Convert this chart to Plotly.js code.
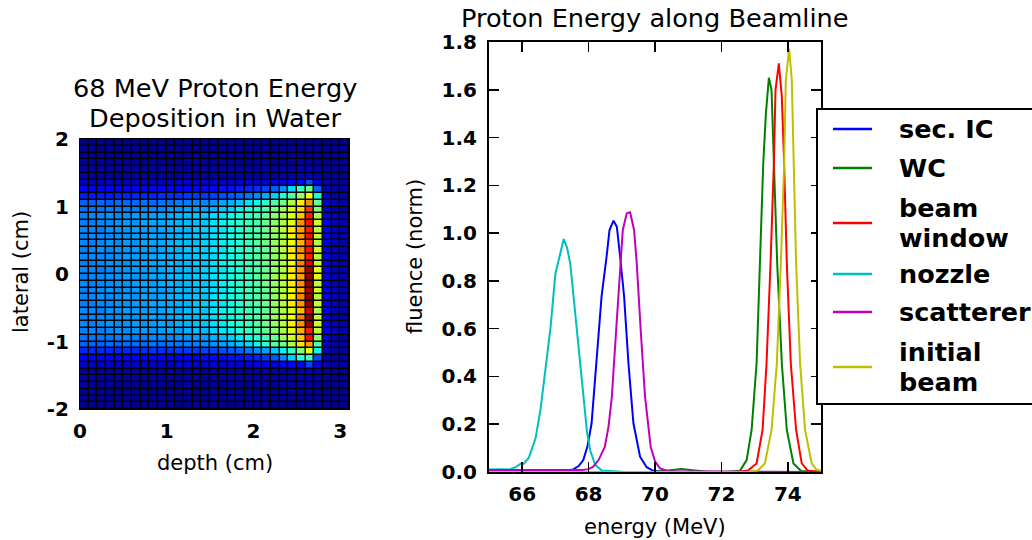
<!DOCTYPE html>
<html><head><meta charset="utf-8">
<script src="https://cdn.plot.ly/plotly-3.0.1.min.js"></script>
<style>html,body{margin:0;padding:0;background:#fff}#chart{width:1032px;height:540px}</style>
</head><body><div id="chart"></div><script>
// ---------- Left panel: dose deposition heatmap ----------
const depthCenters = [0.05,0.15,0.25,0.35,0.45,0.55,0.65,0.75,0.85,0.95,1.05,1.15,1.25,1.35,1.45,1.55,1.65,1.75,1.85,1.95,2.05,2.15,2.25,2.35,2.45,2.55,2.65,2.75,2.85,2.95,3.05];
const lateralCenters = [-1.95,-1.85,-1.75,-1.65,-1.55,-1.45,-1.35,-1.25,-1.15,-1.05,-0.95,-0.85,-0.75,-0.65,-0.55,-0.45,-0.35,-0.25,-0.15,-0.05,0.05,0.15,0.25,0.35,0.45,0.55,0.65,0.75,0.85,0.95,1.05,1.15,1.25,1.35,1.45,1.55,1.65,1.75,1.85,1.95];
// relative energy deposition (0-100), rows from bottom (-2 cm) to top (+2 cm)
const dose = [
 [2,2,1,2,2, 2,1,2,2,2, 2,1,2,2,2, 2,2,1,2,2, 2,2,2,2,1, 2,2,2,2,1, 2],
 [2,2,2,2,2, 2,2,2,2,2, 2,2,2,2,2, 2,2,2,2,2, 2,2,2,2,2, 2,2,2,2,2, 2],
 [2,3,2,2,2, 3,2,2,2,2, 3,2,2,2,2, 3,2,2,2,3, 2,2,2,2,3, 2,3,2,2,2, 2],
 [3,2,2,3,2, 2,2,3,2,2, 2,2,3,2,2, 2,2,3,2,2, 3,2,2,3,2, 3,3,2,2,2, 2],
 [3,3,3,3,3, 3,3,3,3,3, 3,3,3,3,3, 3,3,3,3,3, 3,3,3,3,3, 4,4,3,3,2, 2],
 [3,3,3,3,3, 3,3,3,3,3, 3,3,3,3,3, 3,3,4,3,3, 4,4,4,4,4, 5,5,4,3,3, 2],
 [6,6,6,6,6, 6,6,6,6,6, 6,7,7,7,7, 7,7,7,7,7, 8,8,8,9,10, 12,19,9,4,3, 3],
 [11,11,11,11,11, 11,11,12,12,12, 12,12,12,12,13, 13,13,14,14,15, 16,18,21,26,33, 40,42,20,5,3, 3],
 [16,16,16,16,16, 16,16,17,17,17, 17,18,18,18,19, 19,20,21,22,24, 26,28,32,36,41, 50,63,37,6,3, 3],
 [22,22,22,23,22, 23,23,23,24,23, 24,24,25,25,26, 27,28,30,32,34, 37,40,45,49,55, 67,74,45,7,4, 3],
 [24,24,24,24,25, 25,25,25,26,26, 26,27,27,28,28, 30,31,33,35,38, 40,43,48,53,60, 70,90,52,8,4, 3],
 [25,26,25,26,27, 26,27,28,27,28, 29,28,30,31,31, 33,35,36,39,41, 44,47,51,56,63, 72,88,57,9,5, 4],
 [26,25,26,27,26, 27,28,27,28,29, 28,30,30,31,32, 34,35,38,40,42, 45,48,52,57,66, 76,98,60,9,5, 4],
 [25,26,26,26,27, 27,27,28,29,28, 29,30,31,31,33, 34,36,37,39,43, 45,48,53,58,64, 78,99,58,9,5, 4],
 [26,26,25,27,27, 28,28,28,28,29, 30,29,31,32,32, 35,36,38,40,42, 44,47,52,56,62, 71,92,55,9,5, 4],
 [25,25,26,26,27, 27,28,28,29,29, 29,30,30,32,33, 34,35,37,40,43, 45,49,53,57,66, 75,99,59,9,5, 4],
 [26,26,27,26,27, 28,27,29,28,29, 30,30,31,32,32, 35,36,38,39,42, 45,48,52,58,65, 77,99,57,9,5, 4],
 [25,26,26,27,26, 27,28,28,29,28, 29,31,30,31,33, 34,35,37,40,43, 44,47,53,56,64, 73,96,60,9,5, 4],
 [26,25,26,26,27, 27,28,29,28,29, 30,30,31,32,32, 34,36,38,39,42, 45,48,52,57,66, 76,98,58,9,5, 4],
 [25,26,26,27,27, 28,27,28,29,29, 30,31,31,32,33, 35,36,37,40,42, 45,49,54,58,65, 74,99,62,9,5, 4],
 [26,26,25,26,27, 27,28,28,28,29, 30,30,31,31,33, 34,35,37,39,43, 44,47,52,56,66, 75,97,62,9,5, 4],
 [25,25,26,27,27, 27,28,29,29,29, 30,30,31,32,32, 35,36,38,40,42, 45,48,53,57,64, 77,91,59,9,5, 4],
 [26,26,26,26,27, 28,28,28,29,30, 29,31,31,32,33, 34,36,37,39,43, 45,48,52,56,65, 73,88,57,9,5, 4],
 [25,26,27,26,27, 27,28,28,28,29, 30,30,32,32,33, 35,35,38,40,42, 44,47,52,58,66, 76,89,60,9,5, 4],
 [26,25,26,27,26, 28,27,29,29,29, 30,31,31,31,33, 34,36,37,39,42, 45,49,53,57,64, 72,86,56,9,5, 4],
 [25,26,26,26,27, 27,28,28,29,28, 30,30,31,32,32, 35,36,38,40,43, 44,48,52,56,65, 75,90,59,9,5, 4],
 [26,26,25,27,27, 27,28,28,28,29, 29,31,30,32,33, 34,35,37,39,42, 45,47,53,57,66, 74,88,57,9,5, 4],
 [25,25,26,26,27, 28,27,29,29,29, 30,30,31,31,32, 35,36,38,40,42, 44,48,52,56,63, 76,89,60,9,5, 4],
 [25,26,26,27,26, 27,28,28,28,29, 29,30,31,32,32, 34,35,37,39,41, 43,47,51,55,62, 70,88,55,8,5, 4],
 [24,24,24,25,25, 25,25,26,26,26, 27,27,28,28,29, 30,32,33,36,38, 41,44,49,54,61, 68,85,50,8,4, 3],
 [22,22,23,22,23, 23,23,24,23,24, 24,25,25,26,26, 27,29,30,32,35, 37,41,45,50,56, 66,76,47,7,4, 3],
 [15,15,15,15,16, 16,16,16,16,17, 17,17,18,18,18, 19,20,21,22,24, 26,29,33,38,45, 52,64,38,6,3, 3],
 [11,11,11,11,11, 11,12,12,12,12, 12,12,12,13,13, 13,14,14,15,16, 17,19,22,27,34, 42,48,22,5,3, 3],
 [6,6,6,6,6, 6,6,6,6,6, 7,7,7,7,7, 7,7,7,8,8, 8,8,9,9,11, 13,20,9,4,3, 3],
 [3,3,3,3,3, 3,3,3,3,3, 3,3,3,3,3, 3,3,3,3,4, 4,4,4,4,4, 5,6,4,3,3, 2],
 [3,3,3,3,3, 3,3,3,3,3, 3,3,3,3,3, 3,3,3,3,3, 3,3,3,3,3, 4,4,3,3,2, 2],
 [2,3,2,2,3, 2,2,2,3,2, 2,2,2,3,2, 2,3,2,2,2, 2,3,2,2,2, 3,3,2,2,2, 2],
 [2,2,2,2,2, 2,2,2,2,2, 2,2,2,2,2, 2,2,2,2,2, 2,2,2,2,2, 2,2,2,2,2, 2],
 [2,2,1,2,2, 2,2,2,1,2, 2,2,2,2,2, 1,2,2,2,2, 2,2,1,2,2, 2,2,2,2,2, 1],
 [1,1,1,1,1, 1,1,1,1,1, 1,1,1,1,1, 1,1,1,1,1, 1,1,1,1,1, 1,1,1,1,1, 1]
];
const depthTicks = [0,1,2,3];
const lateralTicks = [-2,-1,0,1,2];
const lateralTickText = ['-2','-1','0','1','2'];

// ---------- Right panel: fluence vs energy ----------
const secIC_E = [65,65.5,66,66.5,67,67.3,67.54,67.7,67.84,67.97,68.09,68.24,68.39,68.54,68.63,68.75,68.85,68.95,69.07,69.2,69.35,69.55,69.75,69.95,70.2,75];
const secIC_F = [0.005,0.005,0.005,0.005,0.005,0.006,0.011,0.025,0.05,0.11,0.204,0.455,0.734,0.90,1.013,1.052,1.027,0.901,0.734,0.455,0.204,0.064,0.02,0.005,0.001,0];
const wc_E = [65,70.0,70.4,70.8,71.2,71.6,72.2,72.56,72.76,72.91,73.06,73.16,73.26,73.34,73.43,73.51,73.58,73.68,73.82,73.97,74.17,74.4,75];
const wc_F = [0,0.001,0.006,0.012,0.006,0.001,0.001,0.005,0.05,0.176,0.455,0.874,1.29,1.50,1.65,1.599,1.29,0.874,0.455,0.176,0.036,0.004,0];
const window_E = [65,72.5,72.8,73.06,73.24,73.36,73.48,73.58,73.63,73.73,73.82,73.89,73.97,74.09,74.25,74.42,74.6,75];
const window_F = [0,0.001,0.006,0.036,0.176,0.455,0.874,1.29,1.6,1.711,1.571,1.29,0.874,0.455,0.176,0.036,0.006,0];
const nozzle_E = [65,65.3,65.6,65.8,65.95,66.05,66.2,66.4,66.55,66.7,66.85,67.0,67.1,67.25,67.35,67.45,67.55,67.65,67.75,67.85,67.95,68.05,68.2,68.4,68.7,69.0,75];
const nozzle_F = [0.01,0.012,0.01,0.02,0.035,0.035,0.06,0.14,0.26,0.42,0.60,0.83,0.89,0.975,0.94,0.87,0.73,0.59,0.45,0.30,0.17,0.09,0.03,0.006,0.002,0.001,0];
const scat_E = [65,65.5,66,66.5,67,67.5,67.8,68.0,68.14,68.3,68.49,68.6,68.7,68.83,68.95,69.03,69.15,69.25,69.37,69.45,69.57,69.7,69.87,70.0,70.15,70.4,75];
const scat_F = [0.008,0.008,0.008,0.007,0.006,0.006,0.008,0.012,0.022,0.05,0.106,0.19,0.315,0.594,0.874,1.013,1.083,1.087,1.013,0.874,0.594,0.315,0.106,0.045,0.015,0.003,0];
const init_E = [65,72.8,73.1,73.31,73.51,73.67,73.79,73.89,73.94,74.04,74.12,74.17,74.25,74.37,74.52,74.72,74.85,75];
const init_F = [0,0.001,0.006,0.036,0.176,0.455,0.874,1.29,1.641,1.771,1.641,1.29,0.874,0.455,0.176,0.036,0.012,0.005];
const energyTicks = [66,68,70,72,74];
const fluenceTicks = [0,0.2,0.4,0.6,0.8,1.0,1.2,1.4,1.6,1.8];

const seriesNames = ['sec. IC','WC','beam<br>window','nozzle','scatterer','initial<br>beam'];
const seriesColors = ['#0000ff','#008000','#ff0000','#00bfbf','#bf00bf','#bfbf00'];
const seriesE = [secIC_E, wc_E, window_E, nozzle_E, scat_E, init_E];
const seriesF = [secIC_F, wc_F, window_F, nozzle_F, scat_F, init_F];

const W = 1032, H = 540;
const px = v => v / W, py = v => 1 - v / H;
const FONT = 'DejaVu Sans';
// panel frame in pixels
const P2 = {left: 489, right: 821, top: 42, bottom: 472};

const jet = [[0,'rgb(0,0,128)'],[0.11,'rgb(0,0,255)'],[0.125,'rgb(0,0,255)'],[0.34,'rgb(0,219,255)'],[0.35,'rgb(0,230,247)'],[0.375,'rgb(21,255,226)'],[0.64,'rgb(239,255,8)'],[0.65,'rgb(247,246,0)'],[0.66,'rgb(255,236,0)'],[0.89,'rgb(255,19,0)'],[0.91,'rgb(232,0,0)'],[1,'rgb(128,0,0)']];

const traces = [{
  type: 'heatmap', x: depthCenters, y: lateralCenters, z: dose,
  colorscale: jet, zmin: 0, zmax: 100, showscale: false,
  xgap: 1.5, ygap: 1.5, xaxis: 'x', yaxis: 'y', hoverinfo: 'skip', showlegend: false
}];
for (let i = 0; i < seriesNames.length; i++) {
  traces.push({
    type: 'scatter', mode: 'lines', x: seriesE[i], y: seriesF[i], name: seriesNames[i],
    line: {color: seriesColors[i], width: 2}, xaxis: 'x2', yaxis: 'y2', showlegend: false
  });
}

// black backing behind heatmap cells (cell edges)
const shapes = [{type: 'rect', xref: 'x', yref: 'y', x0: 0, x1: 3.1, y0: -2, y1: 2,
  fillcolor: '#000', line: {width: 0}, layer: 'below'}];
const TL = 10;

const annotations = [
  {text: '68 MeV Proton Energy', x: px(215), y: py(88)},
  {text: 'Deposition in Water', x: px(215), y: py(118)},
  {text: 'Proton Energy along Beamline', x: px(655), y: py(18)}
].map(a => Object.assign(a, {xref: 'paper', yref: 'paper', showarrow: false, xanchor: 'center', yanchor: 'middle', font: {family: FONT, size: 25.6, color: '#000'}}));
[
  {text: 'depth (cm)', x: px(215), y: py(463)},
  {text: 'lateral (cm)', x: px(21), y: py(272), textangle: -90},
  {text: 'energy (MeV)', x: px(655), y: py(527)},
  {text: 'fluence (norm)', x: px(415), y: py(257), textangle: -90}
].forEach(a => annotations.push(Object.assign(a, {xref: 'paper', yref: 'paper', showarrow: false, xanchor: 'center', yanchor: 'middle', font: {family: FONT, size: 21, color: '#000'}})));

// legend box (extends past the right edge, as in the original)
const legendBox = {left: 817, top: 109, bottom: 404, swatchX0: 833, swatchX1: 872, textX: 897};
const legendRowY = [129, 168, 223, 274, 312, 367];
const legendLineGap = 29.5;
shapes.push({type: 'rect', xref: 'paper', yref: 'paper', x0: px(legendBox.left), x1: px(1050), y0: py(legendBox.bottom), y1: py(legendBox.top),
  fillcolor: '#fff', line: {color: '#000', width: 2}, layer: 'above'});
seriesNames.forEach((nm, i) => {
  shapes.push({type: 'line', xref: 'paper', yref: 'paper', x0: px(legendBox.swatchX0), x1: px(legendBox.swatchX1),
    y0: py(legendRowY[i]), y1: py(legendRowY[i]), line: {color: seriesColors[i], width: 2.5}, layer: 'above'});
  const lines = nm.split('<br>');
  lines.forEach((ln, j) => {
    const yc = legendRowY[i] + (j - (lines.length - 1) / 2) * legendLineGap;
    annotations.push({text: ln, x: px(legendBox.textX), y: py(yc), xref: 'paper', yref: 'paper', showarrow: false,
      xanchor: 'left', yanchor: 'middle', font: {family: FONT, size: 25.5, color: '#000', weight: 'bold'}});
  });
});

const tickBold = {family: FONT, size: 20, color: '#000', weight: 'bold'};
const layout = {
  width: W, height: H, margin: {l: 0, r: 0, t: 0, b: 0},
  paper_bgcolor: '#fff', plot_bgcolor: 'rgba(0,0,0,0)', showlegend: false,
  font: {family: FONT, color: '#000'},
  xaxis: {domain: [px(80), px(349)], range: [0, 3.1], tickmode: 'array', tickvals: depthTicks,
    ticktext: depthTicks.map(String), ticks: '', showline: true, linecolor: '#000', linewidth: 1, mirror: true,
    showgrid: false, zeroline: false, tickfont: tickBold, anchor: 'y', ticklabelstandoff: 4},
  yaxis: {domain: [py(409), py(139)], range: [-2, 2], tickmode: 'array', tickvals: lateralTicks,
    ticktext: lateralTickText, ticks: '', showline: true, linecolor: '#000', linewidth: 1, mirror: true,
    showgrid: false, zeroline: false, tickfont: tickBold, anchor: 'x', ticklabelstandoff: 6},
  xaxis2: {domain: [px(P2.left), px(P2.right)], range: [65, 75], tickmode: 'array', tickvals: energyTicks,
    ticktext: energyTicks.map(String), ticks: 'inside', ticklen: TL, tickwidth: 1.5, tickcolor: '#000',
    showline: true, linecolor: '#000', linewidth: 2, mirror: 'allticks',
    showgrid: false, zeroline: false, tickfont: tickBold, anchor: 'y2', ticklabelstandoff: 3},
  yaxis2: {domain: [py(P2.bottom), py(P2.top)], range: [0, 1.8], tickmode: 'array', tickvals: fluenceTicks,
    ticktext: fluenceTicks.map(v => v.toFixed(1)), ticks: 'inside', ticklen: TL, tickwidth: 1.5, tickcolor: '#000',
    showline: true, linecolor: '#000', linewidth: 2, mirror: 'allticks',
    showgrid: false, zeroline: false, tickfont: tickBold, anchor: 'x2', ticklabelstandoff: 6},
  shapes: shapes,
  annotations: annotations
};
Plotly.newPlot('chart', traces, layout, {staticPlot: true, displayModeBar: false});
</script></body></html>
